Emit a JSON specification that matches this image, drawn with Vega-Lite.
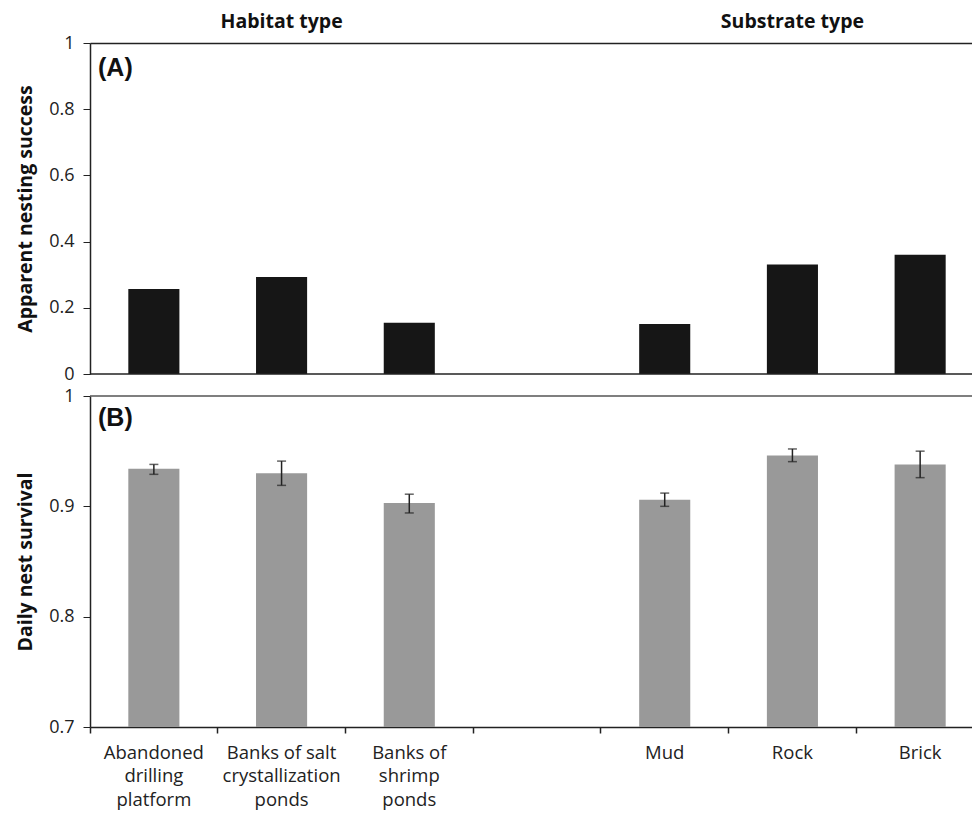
{
  "$schema": "https://vega.github.io/schema/vega-lite/v6.json",
  "padding": {"left": 15, "top": 11, "right": 0, "bottom": 5},
  "background": "white",
  "bounds": "flush",
  "spacing": 22,
  "config": {
    "font": "Open Sans",
    "view": {"stroke": null},
    "axis": {"labelFont": "Open Sans", "titleFont": "Open Sans", "labelColor": "#222", "titleColor": "#111", "domainColor": "#222", "tickColor": "#222", "grid": false}
  },
  "datasets": {
    "nesting": [
      {"site": "Abandoned drilling platform", "success": 0.257},
      {"site": "Banks of salt crystallization ponds", "success": 0.293},
      {"site": "Banks of shrimp ponds", "success": 0.155},
      {"site": "Mud", "success": 0.151},
      {"site": "Rock", "success": 0.331},
      {"site": "Brick", "success": 0.36}
    ],
    "survival": [
      {"site": "Abandoned drilling platform", "dsr": 0.934, "lo": 0.929, "hi": 0.938},
      {"site": "Banks of salt crystallization ponds", "dsr": 0.93, "lo": 0.919, "hi": 0.941},
      {"site": "Banks of shrimp ponds", "dsr": 0.903, "lo": 0.894, "hi": 0.911},
      {"site": "Mud", "dsr": 0.906, "lo": 0.9, "hi": 0.912},
      {"site": "Rock", "dsr": 0.946, "lo": 0.9405, "hi": 0.952},
      {"site": "Brick", "dsr": 0.938, "lo": 0.926, "hi": 0.95}
    ],
    "one": [{"label": "x"}]
  },
  "vconcat": [
    {
      "width": 894,
      "height": 331,
      "layer": [
        {
          "data": {"name": "nesting"},
          "mark": {"type": "bar", "color": "#161616", "width": {"band": 0.4}},
          "encoding": {
            "x": {
              "field": "site", "type": "nominal", "sort": null, "title": null,
              "scale": {"type": "band", "domain": ["Abandoned drilling platform", "Banks of salt crystallization ponds", "Banks of shrimp ponds", "gap", "Mud", "Rock", "Brick"], "paddingInner": 0, "paddingOuter": 0},
              "axis": {"orient": "top", "ticks": false, "domain": true, "domainColor": "#222", "domainWidth": 1.5,
                "labelExpr": "datum.value == 'Banks of salt crystallization ponds' ? 'Habitat type' : datum.value == 'Rock' ? 'Substrate type' : ''",
                "labelFontWeight": "bold", "labelFontSize": 19.5, "labelPadding": 12, "labelColor": "#111", "labelAngle": 0}
            },
            "y": {
              "field": "success", "type": "quantitative", "title": "Apparent nesting success",
              "scale": {"domain": [0, 1]},
              "axis": {"values": [0, 0.2, 0.4, 0.6, 0.8, 1], "format": "~g", "tickSize": 7, "labelPadding": 9, "labelFontSize": 18, "titleFontSize": 19.5, "titleFontWeight": "bold", "titlePadding": 13, "domainWidth": 1.5}
            }
          }
        },
        {
          "data": {"name": "one"},
          "mark": {"type": "rule", "color": "#222", "strokeWidth": 1.5},
          "encoding": {"y": {"datum": 0, "type": "quantitative", "title": "Apparent nesting success"}}
        },
        {
          "data": {"name": "one"},
          "mark": {"type": "text", "text": "(A)", "font": "Liberation Sans", "fontWeight": "bold", "fontSize": 25, "align": "left", "baseline": "middle", "dx": 8, "color": "#111"},
          "encoding": {
            "x": {"datum": "Abandoned drilling platform", "type": "nominal", "bandPosition": 0, "title": null},
            "y": {"datum": 0.925, "type": "quantitative", "title": "Apparent nesting success"}
          }
        }
      ]
    },
    {
      "width": 894,
      "height": 331,
      "layer": [
        {
          "data": {"name": "survival"},
          "mark": {"type": "bar", "color": "#999999", "width": {"band": 0.4}},
          "encoding": {
            "x": {
              "field": "site", "type": "nominal", "sort": null, "title": null,
              "scale": {"type": "band", "domain": ["Abandoned drilling platform", "Banks of salt crystallization ponds", "Banks of shrimp ponds", "gap", "Mud", "Rock", "Brick"], "paddingInner": 0, "paddingOuter": 0},
              "axis": {"orient": "bottom", "bandPosition": 0, "tickSize": 6, "tickWidth": 1.5, "domainWidth": 1.5, "labelAngle": 0,
                "labelExpr": "datum.value == 'Abandoned drilling platform' ? ['Abandoned', 'drilling', 'platform'] : datum.value == 'Banks of salt crystallization ponds' ? ['Banks of salt', 'crystallization', 'ponds'] : datum.value == 'Banks of shrimp ponds' ? ['Banks of', 'shrimp', 'ponds'] : datum.value == 'gap' ? '' : datum.value",
                "labelFontSize": 18.5, "labelPadding": 10, "labelLineHeight": 23.5, "labelBaseline": "top", "labelAlign": "center"}
            },
            "y": {
              "field": "dsr", "type": "quantitative", "title": "Daily nest survival",
              "scale": {"domain": [0.7, 1], "zero": false},
              "axis": {"values": [0.7, 0.8, 0.9, 1], "format": "~g", "tickSize": 7, "labelPadding": 9, "labelFontSize": 18, "titleFontSize": 19.5, "titleFontWeight": "bold", "titlePadding": 13, "domainWidth": 1.5}
            },
            "y2": {"datum": 0.7}
          }
        },
        {
          "data": {"name": "survival"},
          "mark": {"type": "rule", "color": "#222", "strokeWidth": 1.5},
          "encoding": {
            "x": {"field": "site", "type": "nominal", "sort": null, "title": null},
            "y": {"field": "lo", "type": "quantitative", "title": "Daily nest survival"},
            "y2": {"field": "hi"}
          }
        },
        {
          "data": {"name": "survival"},
          "mark": {"type": "tick", "color": "#222", "thickness": 1.5, "size": 9, "orient": "horizontal"},
          "encoding": {
            "x": {"field": "site", "type": "nominal", "sort": null, "title": null},
            "y": {"field": "lo", "type": "quantitative", "title": "Daily nest survival"}
          }
        },
        {
          "data": {"name": "survival"},
          "mark": {"type": "tick", "color": "#222", "thickness": 1.5, "size": 9, "orient": "horizontal"},
          "encoding": {
            "x": {"field": "site", "type": "nominal", "sort": null, "title": null},
            "y": {"field": "hi", "type": "quantitative", "title": "Daily nest survival"}
          }
        },
        {
          "data": {"name": "one"},
          "mark": {"type": "rule", "color": "#555", "strokeWidth": 1.5},
          "encoding": {"y": {"datum": 1, "type": "quantitative", "title": "Daily nest survival"}}
        },
        {
          "data": {"name": "one"},
          "mark": {"type": "text", "text": "(B)", "font": "Liberation Sans", "fontWeight": "bold", "fontSize": 25, "align": "left", "baseline": "middle", "dx": 8, "color": "#111"},
          "encoding": {
            "x": {"datum": "Abandoned drilling platform", "type": "nominal", "bandPosition": 0, "title": null},
            "y": {"datum": 0.98, "type": "quantitative", "title": "Daily nest survival"}
          }
        }
      ]
    }
  ]
}
